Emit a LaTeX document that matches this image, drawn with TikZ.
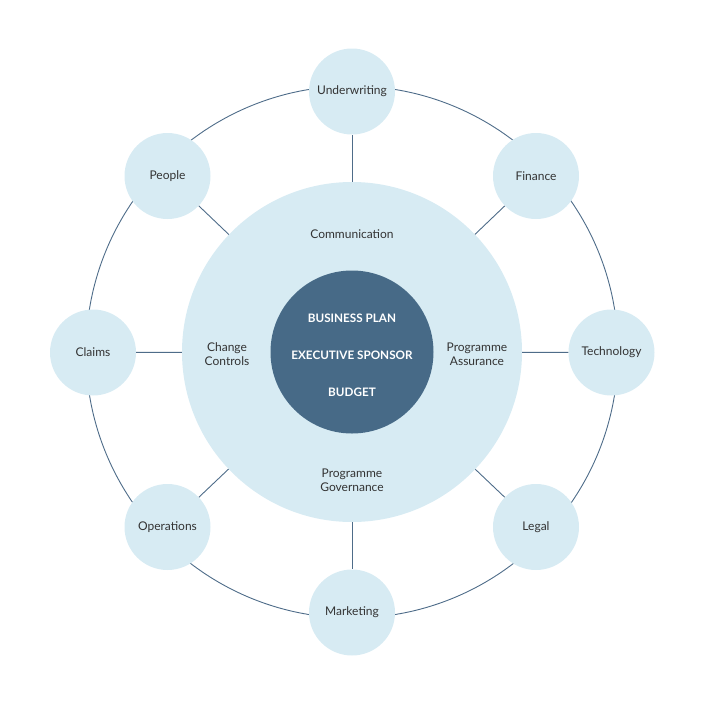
\documentclass[tikz,border=0pt]{standalone}
\usepackage{fontspec}
\setmainfont{Lato}
\usetikzlibrary{calc}
\definecolor{lightblue}{HTML}{D7EBF3}
\definecolor{darkblue}{HTML}{476A87}
\definecolor{linecol}{HTML}{4E6C89}
\definecolor{txt}{HTML}{333333}
\begin{document}
\begin{tikzpicture}[x=1pt,y=-1pt,
  sat/.style={circle,fill=lightblue,minimum size=86pt,inner sep=0pt,text=txt,font=\fontsize{12}{14}\selectfont},
  conn/.style={draw=linecol,line width=0.9pt},
  lab/.style={text=txt,align=center,font=\fontsize{12}{14}\selectfont},
  core/.style={text=white,font=\bfseries\fontsize{11.7}{14}\selectfont}]
\useasboundingbox (0,0) rectangle (705,705);
\coordinate (c) at (352,352);
\draw[conn] (c) circle[radius=266];
\node[circle,fill=lightblue,minimum size=340pt,inner sep=0pt] (big) at (c) {};
\node[circle,fill=darkblue,minimum size=163pt,inner sep=0pt] (core) at (c) {};
\node[core] (bp) at (352,318) {BUSINESS PLAN};
\node[core] (es) at (352,355) {EXECUTIVE SPONSOR};
\node[core] (bu) at (352,392) {BUDGET};
\node[lab] (comm) at (352,234) {Communication};
\node[lab] (cc) at (227,354) {Change\\Controls};
\node[lab] (pa) at (477,354) {Programme\\Assurance};
\node[lab] (pg) at (352,480) {Programme\\Governance};
\foreach \n/\x/\y/\t in {u/352/91.5/Underwriting, f/536/176/Finance, t/611.5/352.5/Technology, l/536/527/Legal, m/352/612.5/Marketing, o/167.5/527/Operations, cl/93/352.5/Claims, p/167.5/176/People}{
  \node[sat] (\n) at (\x,\y) {\t};
  \draw[conn] (big) -- (\n);
}
\end{tikzpicture}
\end{document}
